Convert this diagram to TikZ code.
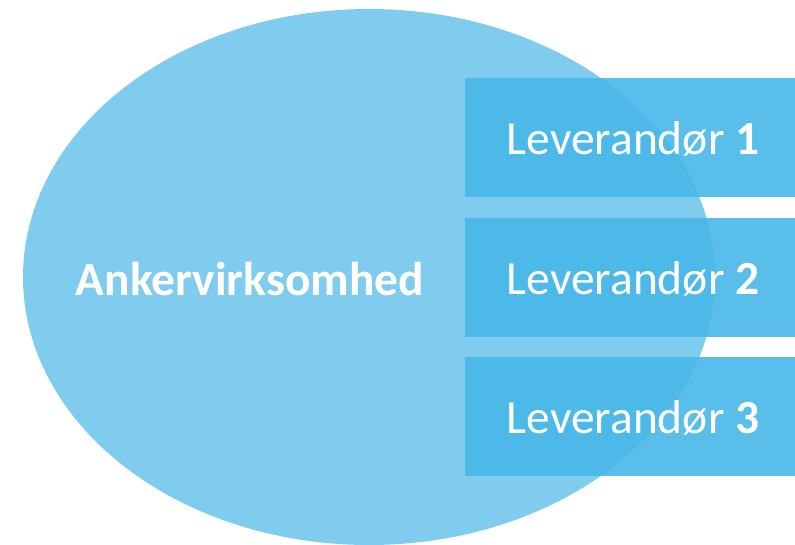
\documentclass[tikz,border=0pt]{standalone}
\usepackage{fontspec}
\setmainfont{Carlito}
\definecolor{ellcol}{RGB}{127,204,238}
\definecolor{boxcol}{RGB}{72,183,232}
\tikzset{
  ell/.style={ellipse, fill=ellcol, minimum width=692pt, minimum height=536pt, inner sep=0pt},
  suppbox/.style={fill=boxcol, fill opacity=0.9, text opacity=1, minimum width=330pt, minimum height=119pt, inner sep=0pt, anchor=north west},
  supptext/.style={text=white, font=\fontsize{47.5}{57}\selectfont},
  ellabel/.style={text=white, font=\bfseries\fontsize{47.5}{57}\selectfont}
}
\usetikzlibrary{shapes.geometric}
\begin{document}
\begin{tikzpicture}[x=1pt,y=-1pt]
\useasboundingbox (0,0) rectangle (795,544);
\node[ell] (e) at (369,277) {};
\node[ellabel] (a) at (250,279) {Ankervirksomhed};
\node[suppbox] (l1) at (465,78) {};
\node[suppbox] (l2) at (465,218) {};
\node[suppbox] (l3) at (465,357) {};
\node[supptext] (t1) at (633,139) {Leverandør \textbf{1}};
\node[supptext] (t2) at (633,279) {Leverandør \textbf{2}};
\node[supptext] (t3) at (633,418) {Leverandør \textbf{3}};
\end{tikzpicture}
\end{document}
